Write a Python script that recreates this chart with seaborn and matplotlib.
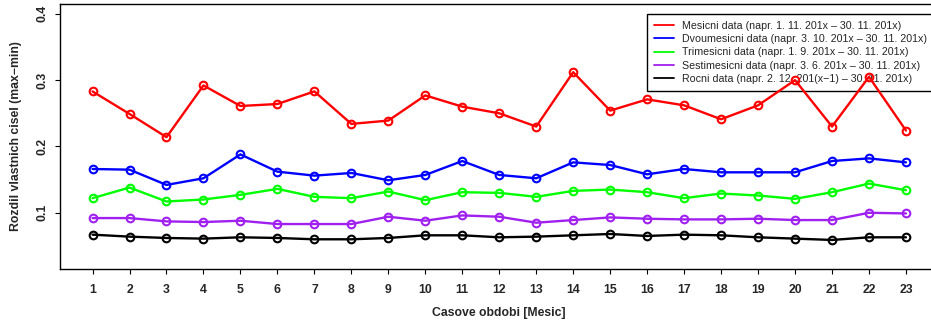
import matplotlib
matplotlib.use("Agg")
import matplotlib.pyplot as plt
from matplotlib.lines import Line2D
import seaborn as sns
import pandas as pd

months = list(range(1, 24))

mesicni = [0.283, 0.249, 0.214, 0.292, 0.261, 0.264, 0.283, 0.234, 0.239, 0.277, 0.260, 0.250,
           0.230, 0.312, 0.254, 0.271, 0.262, 0.241, 0.262, 0.300, 0.230, 0.305, 0.224]
dvoumesicni = [0.166, 0.165, 0.142, 0.152, 0.188, 0.162, 0.156, 0.160, 0.149, 0.157, 0.178, 0.157,
               0.152, 0.176, 0.172, 0.158, 0.166, 0.161, 0.161, 0.161, 0.178, 0.182, 0.176]
trimesicni = [0.122, 0.138, 0.117, 0.120, 0.127, 0.136, 0.124, 0.122, 0.132, 0.119, 0.131, 0.130,
              0.124, 0.133, 0.135, 0.131, 0.122, 0.129, 0.126, 0.121, 0.131, 0.144, 0.134]
sestimesicni = [0.092, 0.092, 0.087, 0.086, 0.088, 0.083, 0.083, 0.083, 0.094, 0.088, 0.096, 0.094,
                0.085, 0.089, 0.093, 0.091, 0.090, 0.090, 0.091, 0.089, 0.089, 0.100, 0.099]
rocni = [0.067, 0.064, 0.062, 0.061, 0.063, 0.062, 0.060, 0.060, 0.062, 0.066, 0.066, 0.063,
         0.064, 0.066, 0.068, 0.065, 0.067, 0.066, 0.063, 0.061, 0.059, 0.063, 0.063]

series_labels = [
    "Mesicni data (napr. 1. 11. 201x \u2013 30. 11. 201x)",
    "Dvoumesicni data (napr. 3. 10. 201x \u2013 30. 11. 201x)",
    "Trimesicni data (napr. 1. 9. 201x \u2013 30. 11. 201x)",
    "Sestimesicni data (napr. 3. 6. 201x \u2013 30. 11. 201x)",
    "Rocni data (napr. 2. 12. 201(x\u22121) \u2013 30. 11. 201x)",
]
series_values = [mesicni, dvoumesicni, trimesicni, sestimesicni, rocni]
series_colors = ["#FF0000", "#0000FF", "#00FF00", "#A020F0", "#000000"]

xlabel = "Casove obdobi [Mesic]"
ylabel = "Rozdil vlastnich cisel (max\u2212min)"
yticks = [0.1, 0.2, 0.3, 0.4]

sns.set_theme(style="white")
plt.rcParams["font.family"] = ["Liberation Sans", "DejaVu Sans"]

fig = plt.figure(figsize=(9.31, 3.23), dpi=100)
ax = fig.add_axes([60 / 931, 1 - 269 / 323, 878.5 / 931, 265 / 323])

for label, vals, col in zip(series_labels, series_values, series_colors):
    df = pd.DataFrame({"month": months, "value": vals})
    sns.lineplot(data=df, x="month", y="value", ax=ax, color=col, linewidth=1.7,
                 marker="o", markersize=5.5, markerfacecolor="none",
                 markeredgecolor=col, markeredgewidth=1.5, legend=False, zorder=3)

ax.set_xlim(0.12, 23.88)
ax.set_ylim(0.0152, 0.4148)
ax.set_xticks(months)
ax.set_xticklabels([str(m) for m in months], fontsize=8.8, fontweight="bold")
ax.set_yticks(yticks)
ax.set_yticklabels([f"{t:.1f}" for t in yticks], fontsize=8.8, fontweight="bold",
                   rotation=90, va="center")
ax.tick_params(axis="both", direction="out", length=3.6, width=0.8, color="black",
               left=True, bottom=True)
ax.tick_params(axis="x", pad=7)
ax.tick_params(axis="y", pad=5)
for sp in ax.spines.values():
    sp.set_color("black")
    sp.set_linewidth(1.0)

ax.set_xlabel(xlabel, fontsize=8.8, fontweight="bold", labelpad=8)
ax.set_ylabel(ylabel, fontsize=8.8, fontweight="bold", labelpad=10)

handles = [Line2D([0], [0], color=c, linewidth=1.3) for c in series_colors]
leg = ax.legend(handles, series_labels, loc="upper left",
                bbox_to_anchor=(647 / 931, 1 - 14 / 323), bbox_transform=fig.transFigure,
                borderaxespad=0, fontsize=7.7, frameon=True, fancybox=False, framealpha=1,
                edgecolor="black", handlelength=1.85, handletextpad=0.75,
                labelspacing=0.3, borderpad=0.65)
leg.get_frame().set_linewidth(1.0)
leg.set_zorder(2)

fig.savefig("out.png", dpi=100)
